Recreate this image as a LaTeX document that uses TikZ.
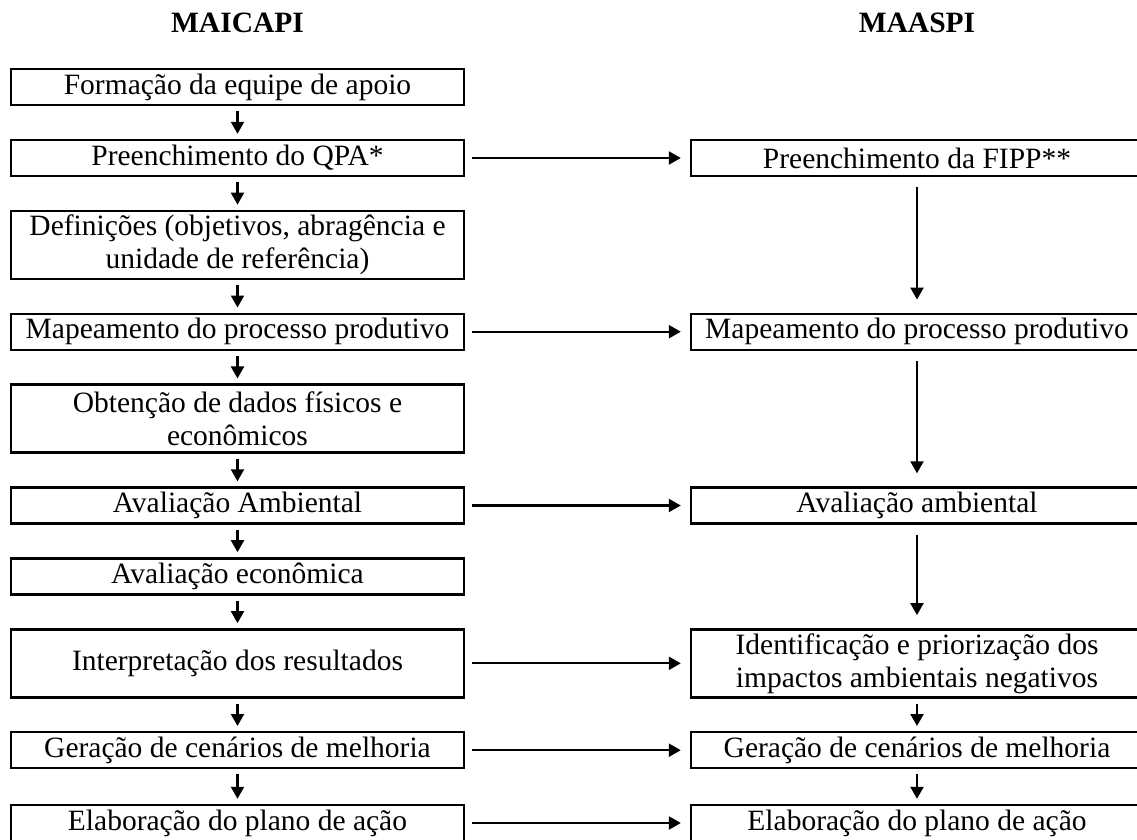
\documentclass[tikz,border=0pt]{standalone}
\usepackage{fontspec}
\setmainfont{Liberation Serif}
\usepackage{tikz}
\usetikzlibrary{arrows.meta}

\begin{document}
\begin{tikzpicture}[x=1pt,y=-1pt,
  etapa/.style={draw,line width=2.4pt,minimum width=453pt,minimum height=36pt,inner sep=0pt,align=center,font=\fontsize{29.5}{33}\selectfont},
  dupla/.style={etapa,minimum height=68pt},
  direita/.style={minimum width=452pt},
  titulo/.style={anchor=base,font=\fontsize{29.5}{33}\selectfont\bfseries},
  seta/.style={line width=2.2pt,-{Triangle[length=12pt,width=13pt]}}]
\useasboundingbox (0,0) rectangle (1137,839);
\node[titulo] (t1) at (237.5,32) {MAICAPI};
\node[titulo] (t2) at (917,32) {MAASPI};
\node[etapa] (e1) at (237.5,87) {Formação da equipe de apoio};
\node[etapa] (e2) at (237.5,158) {Preenchimento do QPA*};
\node[dupla] (e3) at (237.5,244.8) {Definições (objetivos, abragência e\\unidade de referência)};
\node[etapa] (e4) at (237.5,331.7) {Mapeamento do processo produtivo};
\node[dupla] (e5) at (237.5,418.6) {Obtenção de dados físicos e\\econômicos};
\node[etapa] (e6) at (237.5,505.5) {Avaliação Ambiental};
\node[etapa] (e7) at (237.5,576.4) {Avaliação econômica};
\node[dupla] (e8) at (237.5,663.3) {Interpretação dos resultados};
\node[etapa] (e9) at (237.5,750.2) {Geração de cenários de melhoria};
\node[etapa] (e10) at (237.5,823) {Elaboração do plano de ação};
\node[etapa,direita] (m1) at (917,158) {Preenchimento da FIPP**};
\node[etapa,direita] (m2) at (917,331.7) {Mapeamento do processo produtivo};
\node[etapa,direita] (m3) at (917,505.5) {Avaliação ambiental};
\node[dupla,direita] (m4) at (917,663.3) {Identificação e priorização dos\\impactos ambientais negativos};
\node[etapa,direita] (m5) at (917,750.2) {Geração de cenários de melhoria};
\node[etapa,direita] (m6) at (917,823) {Elaboração do plano de ação};
\foreach \a/\b in {e1/e2,e2/e3,e3/e4,e4/e5,e5/e6,e6/e7,e7/e8,e8/e9,e9/e10,m4/m5,m5/m6}
  \draw[seta] ([yshift=-5pt]\a.south) -- ([yshift=5pt]\b.north);
\foreach \a/\b in {m1/m2,m2/m3,m3/m4}
  \draw[seta] ([yshift=-10pt]\a.south) -- ([yshift=13pt]\b.north);
\foreach \a/\b in {e2/m1,e4/m2,e6/m3,e8/m4,e9/m5,e10/m6}
  \draw[seta] ([xshift=7pt]\a.east) -- ([xshift=-9pt]\b.west);
\end{tikzpicture}
\end{document}
